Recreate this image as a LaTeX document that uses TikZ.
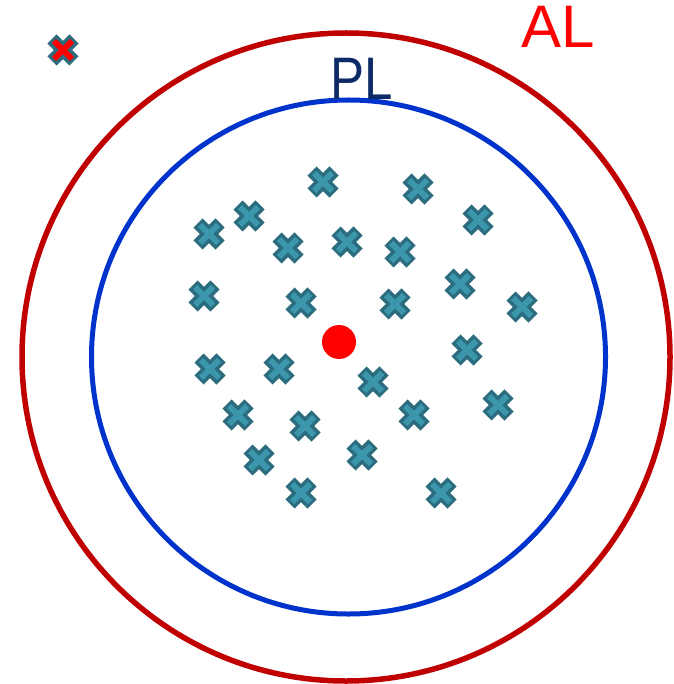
\documentclass[tikz,border=0pt]{standalone}
\usepackage{fontspec}
\setmainfont{Liberation Sans}
\definecolor{xdark}{HTML}{2B6C7E}
\definecolor{xlight}{HTML}{3C97AD}
\definecolor{alred}{HTML}{C00000}
\definecolor{plblue}{HTML}{0033CC}
\definecolor{plnavy}{HTML}{0B2A66}
\tikzset{
  pics/xmark/.style={code={
    \draw[xdark,line width=13pt] (-11,-11)--(11,11) (-11,11)--(11,-11);
    \draw[#1,line width=6pt] (-9,-9)--(9,9) (-9,9)--(9,-9);
  }},
  lbl/.style={font=\fontsize{60}{60}\selectfont,inner sep=0pt}
}
\begin{document}
\begin{tikzpicture}[x=1pt,y=-1pt]
\useasboundingbox (0,0) rectangle (673,684);
\draw[alred,line width=5.5pt] (346,357) circle (324);
\draw[plblue,line width=5pt] (348.5,357) circle (257);
\node[lbl,text=red] (al) at (558,27) {AL};
\node[lbl,text=plnavy,xscale=0.85] (pl) at (362,79) {PL};
\fill[red] (339,342) circle (17);
\pic at (63,50) {xmark=red};
\foreach \p in {(323,182),(418,189),(478,220),(249,216),(209,234),(288,248),(347,242),(400,252),(204,296),(301,303),(395,304),(460,284),(522,307),(467,350),(210,369),(279,369),(373,382),(238,415),(414,415),(305,426),(498,405),(362,455),(259,460),(301,493),(441,493)}
  \pic at \p {xmark=xlight};
\end{tikzpicture}
\end{document}
